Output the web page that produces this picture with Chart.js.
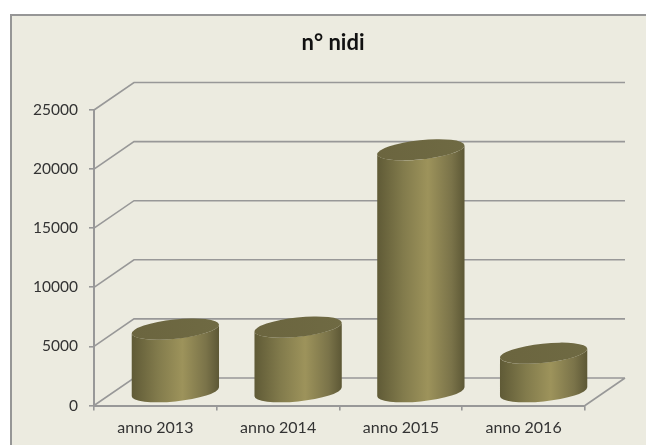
<!DOCTYPE html>
<html>
<head>
<meta charset="utf-8">
<script src="https://cdn.jsdelivr.net/npm/chart.js@4"></script>
<style>
  html, body { margin: 0; height: 100%; background: #fff; overflow: hidden; }
  #panel { position: absolute; left: 10px; top: 14px; width: 650px; height: 450px; background: #ecebe0; border: 2px solid #969696; }
  #chart { position: absolute; left: 0; top: 0; }
</style>
</head>
<body>
<div id="panel"></div>
<canvas id="chart" width="646" height="445"></canvas>
<script>
const categories = ["anno 2013", "anno 2014", "anno 2015", "anno 2016"];
const nidi = [5300, 5470, 20470, 3260];
const yTicks = [0, 5000, 10000, 15000, 20000, 25000];

const lineColor = "#989898";
// depth of the fake 3D box, in pixels
const depthX = 40;
const depthY = 27.5;

const cylinderBars = {
  id: "cylinderBars",
  // back wall, floor and side wall lines
  beforeDatasetsDraw(chart) {
    const { ctx, scales: { x, y } } = chart;
    ctx.save();
    ctx.strokeStyle = lineColor;
    ctx.lineWidth = 1.6;
    ctx.beginPath();
    yTicks.forEach(v => {
      const py = y.getPixelForValue(v);
      ctx.moveTo(x.left, py);
      ctx.lineTo(x.left + depthX, py - depthY);
      ctx.lineTo(x.right + depthX, py - depthY);
    });
    const y0 = y.getPixelForValue(0);
    ctx.moveTo(x.right, y0);
    ctx.lineTo(x.right + depthX, y0 - depthY);
    ctx.stroke();
    ctx.restore();
  },
  // replaces the flat bar with a cylinder at the same value
  beforeDatasetDraw(chart, args) {
    const { ctx, scales: { y } } = chart;
    const y0 = y.getPixelForValue(0);
    args.meta.data.forEach(bar => {
      const cx = bar.x + depthX / 2;
      const a = bar.width / 2 + 0.3;
      const b = 9.6;
      const tilt = -0.105;
      const t0 = 0.023;
      const yBase = y0 - depthY / 2;
      const yTop = bar.y - depthY / 2;

      const side = ctx.createLinearGradient(cx - a, 0, cx + a, 0);
      side.addColorStop(0, "#5f5a36");
      side.addColorStop(0.3, "#827b4c");
      side.addColorStop(0.58, "#9d935b");
      side.addColorStop(0.85, "#7a7349");
      side.addColorStop(1, "#5c5735");
      ctx.fillStyle = side;
      ctx.beginPath();
      ctx.ellipse(cx, yBase, a, b, tilt, t0, t0 + Math.PI);
      ctx.ellipse(cx, yTop, a, b, tilt, t0 + Math.PI, t0, true);
      ctx.closePath();
      ctx.fill();

      const top = ctx.createLinearGradient(cx - a, 0, cx + a, 0);
      top.addColorStop(0, "#6b653f");
      top.addColorStop(1, "#6f6a43");
      ctx.fillStyle = top;
      ctx.beginPath();
      ctx.ellipse(cx, yTop, a, b, tilt, 0, Math.PI * 2);
      ctx.fill();
    });
    return false;
  },
  // the title sits centred on the panel, not on the plot
  afterLayout(chart) {
    chart.titleBlock.left -= 13;
  }
};

new Chart(document.getElementById("chart").getContext("2d"), {
  type: "bar",
  data: {
    labels: categories,
    datasets: [{
      label: "n° nidi",
      data: nidi,
      backgroundColor: "#9d935b",
      categoryPercentage: 1,
      barPercentage: 0.71
    }]
  },
  options: {
    responsive: false,
    animation: false,
    layout: { padding: { left: 0, right: 61, top: 0, bottom: 0 } },
    plugins: {
      legend: { display: false },
      tooltip: { enabled: false },
      title: {
        display: true,
        text: "n° nidi",
        fullSize: false,
        color: "#111",
        font: { family: "Lato", size: 22, weight: "bold" },
        padding: { top: 30, bottom: 53.6 }
      }
    },
    scales: {
      x: {
        afterFit: scale => { scale.height = 39.5; },
        border: { color: lineColor, width: 2 },
        grid: { drawOnChartArea: false, color: lineColor, lineWidth: 1.6, tickLength: 5 },
        ticks: { color: "#333", font: { family: "Lato", size: 16 }, padding: 8, maxRotation: 0 }
      },
      y: {
        min: 0,
        max: 25000,
        afterFit: scale => { scale.width = 94; },
        afterBuildTicks: scale => { scale.ticks = yTicks.map(v => ({ value: v })); },
        border: { color: lineColor, width: 2 },
        grid: { drawOnChartArea: false, color: lineColor, lineWidth: 1.6, tickLength: 5 },
        ticks: { color: "#333", font: { family: "Lato", size: 15.5 }, padding: 11, callback: v => String(v) }
      }
    }
  },
  plugins: [cylinderBars]
});
</script>
</body>
</html>
